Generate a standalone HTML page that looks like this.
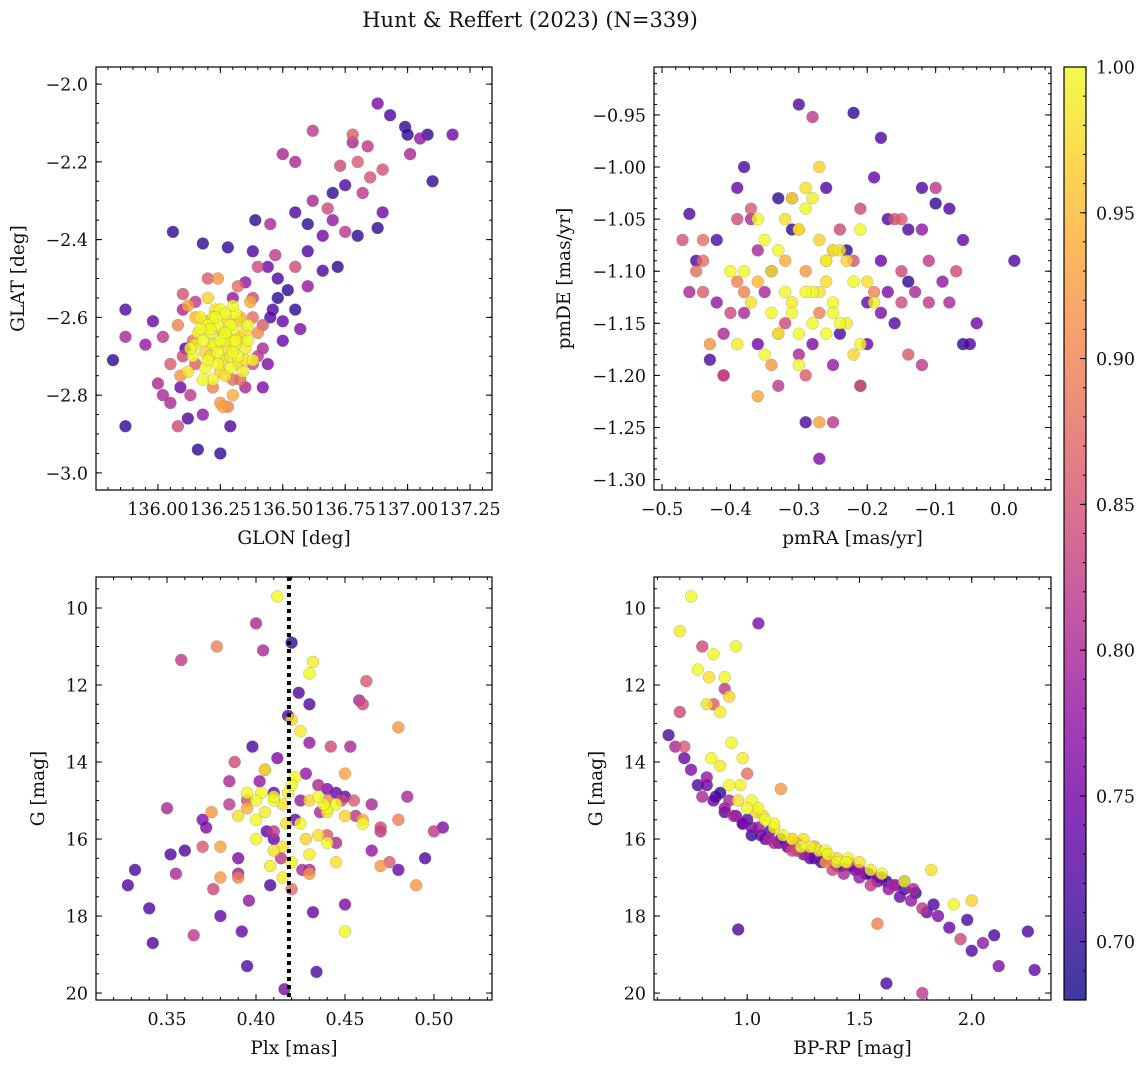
<!DOCTYPE html>
<html><head><meta charset="utf-8"><style>
html,body{margin:0;padding:0;background:#fff}
svg{display:block}
text{font-family:"DejaVu Serif","Liberation Serif",serif;fill:#111}
</style></head><body>
<svg id="fig" width="1148" height="1067" viewBox="0 0 1148 1067" xmlns="http://www.w3.org/2000/svg">
<defs><linearGradient id="plasma" x1="0" y1="1" x2="0" y2="0">
<stop offset="0" stop-color="#0d0887"/><stop offset="0.1" stop-color="#41049d"/><stop offset="0.2" stop-color="#6a00a8"/><stop offset="0.3" stop-color="#8f0da4"/><stop offset="0.4" stop-color="#b12a90"/><stop offset="0.5" stop-color="#cc4778"/><stop offset="0.6" stop-color="#e16462"/><stop offset="0.7" stop-color="#f2844b"/><stop offset="0.8" stop-color="#fca636"/><stop offset="0.9" stop-color="#fcce25"/><stop offset="1" stop-color="#f0f921"/>
</linearGradient></defs>
<text x="530" y="27" font-size="21" text-anchor="middle">Hunt &amp; Reffert (2023) (N=339)</text>
</svg>
<script>
// ---------- Panel 1: GLON / GLAT ----------
const glon=[135.82,135.87,135.87,135.87,135.95,136.02,136.06,136.02,136.09,136.11,
136.18,136.16,136.12,136.25,136.28,136.29,136.38,136.39,136.44,136.48,
136.55,136.60,136.62,136.66,136.70,136.73,136.75,136.78,136.80,136.84,
136.88,136.90,136.93,136.99,137.00,137.05,137.08,137.10,137.18,136.50,
136.55,136.62,136.85,136.88,136.78,136.66,136.72,136.47,136.35,136.40,
136.52,136.57,136.46,136.42,136.50,136.30,136.60,136.70,136.82,137.01,
136.10,136.15,136.32,136.20,136.05,136.28,136.30,136.38,136.42,136.10,
136.22,136.90,136.80,136.75,136.55,136.45,136.68,136.38,136.15,136.08,
136.12,136.24,136.30,136.26,136.09,136.40,136.37,136.15,136.20,136.33,
136.20,136.22,136.25,136.28,136.30,136.33,136.35,136.18,136.21,136.24,
136.27,136.29,136.31,136.26,136.23,136.19,136.16,136.14,136.12,136.36,
136.38,136.34,136.30,136.27,136.24,136.20,136.17,136.22,136.28,136.32,
136.25,136.21,136.29,136.35,136.13,136.26,136.31,136.19,136.23,136.27,
136.21,136.26,136.31,136.19,136.24,136.29,136.33,136.17,136.22,136.27,
136.32,136.36,136.15,136.20,136.25,136.30,136.35,136.18,136.23,136.28,
136.10,136.14,136.40,136.44,136.35,136.45,136.50,136.55,136.60,136.48,
136.05,136.00,135.98,136.08,136.13,136.18,136.25,136.33,136.42,136.38];
const glat=[-2.71,-2.58,-2.65,-2.88,-2.67,-2.65,-2.38,-2.80,-2.78,-2.68,
-2.41,-2.94,-2.86,-2.95,-2.42,-2.88,-2.43,-2.35,-2.47,-2.55,
-2.33,-2.36,-2.30,-2.39,-2.28,-2.21,-2.26,-2.15,-2.39,-2.16,
-2.37,-2.33,-2.08,-2.11,-2.13,-2.14,-2.13,-2.25,-2.13,-2.18,
-2.20,-2.12,-2.24,-2.05,-2.13,-2.48,-2.47,-2.44,-2.51,-2.47,
-2.53,-2.63,-2.58,-2.68,-2.61,-2.55,-2.43,-2.35,-2.28,-2.18,
-2.54,-2.56,-2.52,-2.50,-2.82,-2.83,-2.76,-2.72,-2.62,-2.58,
-2.78,-2.22,-2.20,-2.38,-2.47,-2.36,-2.32,-2.60,-2.72,-2.62,
-2.57,-2.50,-2.80,-2.83,-2.75,-2.64,-2.56,-2.60,-2.62,-2.60,
-2.62,-2.60,-2.58,-2.61,-2.63,-2.65,-2.68,-2.66,-2.70,-2.72,
-2.66,-2.70,-2.59,-2.64,-2.67,-2.69,-2.64,-2.70,-2.74,-2.62,
-2.71,-2.74,-2.57,-2.75,-2.62,-2.55,-2.60,-2.76,-2.68,-2.70,
-2.66,-2.64,-2.62,-2.64,-2.68,-2.71,-2.67,-2.73,-2.58,-2.64,
-2.63,-2.65,-2.66,-2.61,-2.69,-2.73,-2.61,-2.63,-2.67,-2.59,
-2.72,-2.66,-2.67,-2.71,-2.74,-2.69,-2.71,-2.76,-2.60,-2.65,
-2.70,-2.66,-2.70,-2.72,-2.78,-2.60,-2.66,-2.58,-2.52,-2.50,
-2.72,-2.77,-2.61,-2.88,-2.80,-2.85,-2.82,-2.76,-2.78,-2.55];
const prob1=[.70,.72,.80,.70,.78,.82,.70,.80,.75,.72,
.70,.70,.72,.70,.70,.72,.72,.70,.75,.70,
.72,.70,.80,.75,.70,.84,.72,.80,.70,.82,
.70,.75,.72,.70,.70,.78,.70,.70,.75,.80,
.80,.82,.85,.76,.86,.72,.70,.82,.78,.84,
.70,.76,.72,.80,.74,.78,.72,.78,.82,.80,
.85,.82,.88,.86,.80,.90,.88,.84,.86,.80,
.90,.85,.86,.82,.84,.80,.84,.88,.86,.90,
.93,.92,.94,.93,.92,.91,.94,.95,.96,.95,
1,.99,1,.98,1,.97,.99,1,.98,1,
1,.99,1,.98,1,.97,.99,1,.98,1,
1,.99,1,.98,1,.97,.99,1,.98,1,
1,.99,1,.98,1,.97,.99,1,.98,1,
1,.99,1,.98,1,1,.97,1,.99,1,
.98,1,.99,1,.97,1,.98,1,1,.99,
.84,.88,.82,.76,.80,.72,.74,.70,.78,.72,
.86,.80,.74,.84,.82,.78,.92,.88,.76,.84];
// ---------- Panel 2: pmRA / pmDE ----------
const pmra=[-0.46,-0.47,-0.45,-0.43,-0.42,-0.39,-0.38,-0.36,-0.33,-0.30,
-0.29,-0.27,-0.25,-0.22,-0.21,-0.18,-0.16,-0.14,-0.12,-0.10,
-0.08,-0.06,-0.05,-0.04,0.015,-0.07,-0.09,-0.11,-0.13,-0.15,
-0.17,-0.19,-0.23,-0.26,-0.31,-0.34,-0.37,-0.40,-0.41,-0.44,
-0.35,-0.32,-0.24,-0.20,-0.15,-0.12,-0.10,-0.18,-0.28,-0.30,
-0.43,-0.38,-0.36,-0.33,-0.27,-0.22,-0.19,-0.14,-0.25,-0.29,
-0.46,-0.44,-0.41,-0.37,-0.31,-0.28,-0.24,-0.21,-0.16,-0.39,
-0.36,-0.34,-0.32,-0.30,-0.28,-0.27,-0.26,-0.25,-0.24,-0.22,
-0.35,-0.33,-0.31,-0.29,-0.28,-0.26,-0.23,-0.21,-0.20,-0.38,
-0.40,-0.39,-0.34,-0.31,-0.29,-0.27,-0.25,-0.30,-0.32,-0.26,
-0.33,-0.31,-0.29,-0.27,-0.25,-0.23,-0.21,-0.19,-0.35,-0.37,
-0.30,-0.28,-0.26,-0.24,-0.22,-0.32,-0.34,-0.36,-0.30,-0.27,
-0.45,-0.42,-0.39,-0.36,-0.20,-0.17,-0.14,-0.11,-0.08,-0.06,
-0.33,-0.29,-0.25,-0.21,-0.18,-0.38,-0.41,-0.44,-0.15,-0.12];
const pmde=[-1.045,-1.07,-1.10,-1.185,-1.07,-1.02,-1.14,-1.17,-1.03,-0.94,
-1.245,-1.28,-1.245,-0.948,-1.21,-0.972,-1.15,-1.11,-1.02,-1.035,
-1.04,-1.17,-1.17,-1.15,-1.09,-1.10,-1.11,-1.13,-1.12,-1.10,
-1.05,-1.01,-1.08,-1.02,-1.06,-1.10,-1.05,-1.14,-1.20,-1.09,
-1.12,-1.15,-1.16,-1.13,-1.05,-1.06,-1.02,-1.09,-1.17,-1.18,
-1.17,-1.12,-1.22,-1.16,-1.245,-1.09,-1.12,-1.18,-1.08,-1.10,
-1.12,-1.07,-1.20,-1.04,-1.03,-0.952,-1.06,-1.21,-1.05,-1.11,
-1.05,-1.10,-1.12,-1.06,-1.15,-1.00,-1.09,-1.13,-1.08,-1.11,
-1.18,-1.16,-1.14,-1.02,-1.12,-1.09,-1.15,-1.17,-1.11,-1.10,
-1.10,-1.17,-1.14,-1.03,-1.12,-1.07,-1.08,-1.19,-1.05,-1.16,
-1.08,-1.13,-1.04,-1.12,-1.14,-1.09,-1.06,-1.13,-1.07,-1.13,
-1.16,-1.03,-1.11,-1.15,-1.18,-1.09,-1.19,-1.11,-1.06,-1.14,
-1.09,-1.13,-1.05,-1.08,-1.17,-1.12,-1.06,-1.09,-1.13,-1.07,
-1.21,-1.20,-1.19,-1.04,-1.14,-1.00,-1.16,-1.12,-1.13,-1.19];
const prob2=[.72,.85,.88,.72,.72,.74,.80,.75,.70,.72,
.72,.76,.82,.70,.72,.72,.72,.70,.72,.70,
.72,.70,.72,.75,.72,.84,.78,.82,.80,.84,
.72,.74,.70,.72,.70,.75,.80,.84,.82,.88,
.80,.84,.72,.74,.86,.78,.82,.74,.76,.80,
.92,.90,.93,.88,.93,.85,.90,.86,.88,.92,
.80,.88,.83,.86,.82,.82,.84,.86,.85,.90,
1,.99,1,.98,1,.97,.99,1,.98,1,
1,.99,1,.98,1,.97,.99,1,.98,1,
1,.99,1,.98,1,.97,.99,1,.98,1,
1,.99,1,.98,1,.97,1,.99,1,.98,
1,.99,.98,1,.97,.94,.92,.95,.93,.90,
.72,.78,.84,.80,.74,.76,.72,.82,.80,.74,
.82,.86,.78,.84,.76,.72,.80,.86,.84,.82];
// ---------- Panel 3: Plx / G ----------
const plx=[0.328,0.332,0.34,0.342,0.35,0.352,0.355,0.358,0.365,0.37,
0.372,0.376,0.378,0.38,0.385,0.39,0.392,0.395,0.398,0.40,
0.402,0.404,0.406,0.408,0.41,0.412,0.414,0.416,0.418,0.42,
0.422,0.424,0.426,0.428,0.43,0.432,0.434,0.436,0.44,0.442,
0.445,0.448,0.45,0.453,0.456,0.46,0.465,0.47,0.475,0.48,
0.485,0.49,0.495,0.50,0.505,0.458,0.462,0.388,0.396,0.41,
0.40,0.405,0.41,0.415,0.418,0.42,0.425,0.43,0.435,0.44,
0.403,0.408,0.412,0.417,0.422,0.428,0.432,0.438,0.445,0.45,
0.375,0.38,0.39,0.395,0.43,0.44,0.45,0.46,0.47,0.48,
0.40,0.405,0.41,0.415,0.42,0.425,0.43,0.435,0.44,0.445,
0.41,0.42,0.43,0.44,0.45,0.46,0.39,0.395,0.40,0.415,
0.36,0.37,0.385,0.395,0.405,0.425,0.435,0.445,0.455,0.465,
0.47,0.48,0.39,0.41,0.43,0.44,0.45,0.38,0.42,0.43];
const gmag3=[17.2,16.8,17.8,18.7,15.2,16.4,16.9,11.35,18.5,16.2,
15.7,17.3,11.0,18.0,15.1,16.9,18.4,19.3,13.6,10.4,
14.5,11.1,15.8,17.2,14.8,13.9,16.5,19.9,12.8,10.9,
15.5,12.2,16.8,14.3,12.5,17.9,19.45,15.3,14.7,13.6,
16.1,15.0,17.7,13.6,15.4,12.5,16.3,15.8,16.6,16.8,
14.9,17.2,16.5,15.8,15.7,12.4,11.9,14.0,17.6,16.0,
15.5,14.2,15.0,16.2,14.8,12.9,13.2,11.7,15.9,15.2,
14.8,16.7,9.7,15.6,14.4,16.0,11.4,15.1,16.6,18.4,
15.3,16.2,17.0,15.2,16.9,15.0,14.3,15.5,16.7,13.1,
15.0,15.3,14.9,15.1,14.6,15.6,15.0,14.9,15.3,15.1,
16.3,16.6,16.4,16.1,15.4,15.6,15.4,14.8,16.0,17.0,
16.3,15.5,14.5,15.0,14.2,15.0,14.6,14.8,15.0,15.1,
15.7,15.5,16.5,15.8,16.8,15.9,14.9,17.0,17.3,13.5];
const prob3=[.72,.72,.72,.72,.80,.72,.80,.82,.82,.86,
.76,.84,.90,.74,.82,.78,.74,.72,.72,.80,
.78,.80,.74,.72,.74,.76,.82,.76,.72,.70,
.74,.72,.80,.78,.72,.74,.72,.80,.76,.84,
.80,.84,.76,.80,.82,.84,.78,.82,.86,.74,
.80,.92,.72,.82,.76,.80,.86,.84,.78,.74,
1,.99,1,.98,1,.97,.99,1,.98,1,
1,.99,1,.98,1,.97,.99,1,.98,1,
.92,.93,.90,.94,.92,.91,.93,.94,.92,.92,
1,.99,1,.98,1,1,.97,1,.99,1,
.98,1,.99,1,.97,1,.98,1,1,.99,
.72,.76,.80,.84,.82,.78,.80,.74,.86,.80,
.84,.90,.76,.82,.80,.86,.74,.92,.88,.78];
const plxRef=[0.4185];
// ---------- Panel 4: BP-RP / G ----------
const bprp=[0.65,0.68,0.70,0.72,0.75,0.78,0.80,0.82,0.85,0.88,
0.90,0.92,0.95,0.98,1.00,1.02,1.05,1.08,1.10,1.12,
1.15,1.18,1.20,1.22,1.25,1.28,1.30,1.33,1.35,1.38,
1.40,1.43,1.45,1.48,1.50,1.53,1.55,1.58,1.60,1.63,
1.65,1.68,1.70,1.73,1.75,1.78,1.80,1.83,1.85,1.90,
1.95,1.98,2.00,2.05,2.10,2.12,2.25,2.28,0.96,1.62,
1.78,1.05,0.72,0.80,0.85,0.90,1.00,1.15,1.35,1.58,
0.75,0.70,0.78,0.83,0.90,0.92,0.88,0.95,0.82,0.85,
0.93,0.97,1.02,1.07,1.12,1.2,1.3,1.4,1.5,1.6,
1.45,1.55,1.7,1.82,1.92,2.0,0.98,1.05,1.25,1.35,
0.82,0.86,0.90,0.94,0.98,1.02,1.06,1.10,1.14,1.18,
1.22,1.26,1.30,1.34,1.38,1.42,1.46,1.50,1.54,1.58,
1.62,1.66,1.70,1.74,0.84,0.88,0.92,0.96,1.00,1.04,
1.08,1.12,1.16,1.20,1.24,1.28,1.32,1.36,1.40,1.44];
const gmag4=[13.3,13.6,12.7,13.9,14.2,14.6,14.9,14.4,15.0,14.8,
15.3,15.0,15.4,15.6,15.5,15.9,15.7,16.0,15.8,16.1,
16.0,16.2,16.3,16.1,16.4,16.5,16.2,16.6,16.4,16.8,
16.7,16.9,16.6,16.8,17.0,16.9,17.2,17.1,17.0,17.3,
17.2,17.5,17.3,17.6,17.4,17.8,17.9,17.7,18.0,18.3,
18.6,18.1,18.9,18.7,18.5,19.3,18.4,19.4,18.35,19.75,
20.0,10.4,13.6,11.0,12.5,12.1,14.3,14.7,16.6,18.2,
9.7,10.6,11.6,11.8,11.8,12.3,12.7,11.0,12.5,11.2,
13.5,14.6,15.0,15.4,15.6,16.0,16.2,16.6,16.6,16.9,
16.5,16.8,17.1,16.8,17.7,17.6,13.9,15.2,16.0,16.3,
14.6,14.9,15.2,15.4,15.6,15.7,15.9,16.0,16.1,16.2,
16.3,16.4,16.5,16.5,16.6,16.7,16.7,16.8,16.9,17.0,
17.1,17.2,17.1,17.3,13.9,14.1,14.6,15.0,15.2,15.3,
15.5,15.7,15.9,16.0,16.2,16.2,16.3,16.4,16.5,16.6];
const prob4=[.72,.80,.84,.74,.76,.72,.80,.78,.74,.70,
.72,.80,.74,.76,.72,.70,.78,.74,.72,.80,
.72,.76,.84,.72,.80,.74,.78,.72,.76,.84,
.72,.80,.86,.74,.78,.70,.82,.76,.72,.78,
.80,.74,.72,.78,.70,.82,.74,.72,.76,.74,
.84,.72,.72,.78,.72,.76,.72,.74,.72,.72,
.82,.76,.86,.84,.86,.82,.88,.92,.92,.90,
1,.99,1,.98,1,.97,.99,1,.98,1,
1,.99,1,.98,1,.97,.99,1,.98,1,
1,.99,1,.98,1,.97,.99,1,.98,1,
.74,.72,.78,.80,.72,.76,.74,.80,.72,.78,
.82,.74,.72,.76,.80,.72,.74,.78,.72,.76,
.70,.74,.72,.80,1,.99,1,.98,1,.97,
1,.99,1,.98,1,.99,.98,1,.97,1];
// ---------- Colorbar ----------
const cbTicks=[0.70,0.75,0.80,0.85,0.90,0.95,1.00];
const cbMin=0.68, cbMax=1.0;

const NS="http://www.w3.org/2000/svg";
const svg=document.getElementById('fig');
function el(tag,attrs,parent){const e=document.createElementNS(NS,tag);for(const k in attrs)e.setAttribute(k,attrs[k]);(parent||svg).appendChild(e);return e;}
const stops=[[0,[13,8,135]],[.1,[65,4,157]],[.2,[106,0,168]],[.3,[143,13,164]],[.4,[177,42,144]],[.5,[204,71,120]],[.6,[225,100,98]],[.7,[242,132,75]],[.8,[252,166,54]],[.9,[252,206,37]],[1,[240,249,33]]];
function plasma(p){let t=(p-cbMin)/(cbMax-cbMin);t=Math.max(0,Math.min(1,t));
 for(let i=1;i<stops.length;i++){if(t<=stops[i][0]){const a=stops[i-1],b=stops[i],f=(t-a[0])/(b[0]-a[0]);
 return 'rgb('+a[1].map((v,j)=>Math.round(v+(b[1][j]-v)*f)).join(',')+')';}}return 'rgb(240,249,33)';}
function fmt(v,d){const s=Math.abs(v).toFixed(d);return (v<-1e-9?'\u2212':'')+s;}
const TF=17.5, LF=18.5;
function panel(cfg){
 const g=el('g',{});
 
 
 const L=cfg.box[0],T=cfg.box[1],R=cfg.box[2],B=cfg.box[3];
 const sx=v=>L+(v-cfg.xd[0])/(cfg.xd[1]-cfg.xd[0])*(R-L);
 const sy=v=>cfg.yinv? T+(v-cfg.yd[0])/(cfg.yd[1]-cfg.yd[0])*(B-T) : B-(v-cfg.yd[0])/(cfg.yd[1]-cfg.yd[0])*(B-T);
 const clip='clip-'+cfg.name;
 const cp=el('clipPath',{id:clip},g);el('rect',{x:L,y:T,width:R-L,height:B-T},cp);
 const pts=el('g',{'clip-path':'url(#'+clip+')'},g);
 
 
 const idx=cfg.xs.map((_,i)=>i).sort((a,b)=>cfg.ps[a]-cfg.ps[b]);
 for(const i of idx){
  const c=el('circle',{cx:sx(cfg.xs[i]),cy:sy(cfg.ys[i]),r:6,fill:plasma(cfg.ps[i]),'fill-opacity':0.8,stroke:'#777','stroke-opacity':0.5,'stroke-width':0.5},pts);
  
  
 }
 if(cfg.vline){for(const v of cfg.vline){const ln=el('line',{x1:sx(v),x2:sx(v),y1:T,y2:B,stroke:'#000','stroke-width':4,'stroke-dasharray':'4 4'},g);
  
  }}
 const tk=el('g',{stroke:'#000','stroke-width':1},g);
 const eps=1e-9;
 for(let v=Math.ceil(cfg.xd[0]/cfg.xmin-eps)*cfg.xmin;v<=cfg.xd[1]+eps;v+=cfg.xmin){const x=sx(v);
  el('line',{x1:x,x2:x,y1:B,y2:B-3},tk);el('line',{x1:x,x2:x,y1:T,y2:T+3},tk);}
 const ylo=Math.min(cfg.yd[0],cfg.yd[1]),yhi=Math.max(cfg.yd[0],cfg.yd[1]);
 for(let v=Math.ceil(ylo/cfg.ymin-eps)*cfg.ymin;v<=yhi+eps;v+=cfg.ymin){const y=sy(v);
  el('line',{x1:L,x2:L+3,y1:y,y2:y},tk);el('line',{x1:R,x2:R-3,y1:y,y2:y},tk);}
 for(const v of cfg.xt){const x=sx(v);
  el('line',{x1:x,x2:x,y1:B,y2:B-6},tk);el('line',{x1:x,x2:x,y1:T,y2:T+6},tk);
  const t=el('text',{x:x,y:B+25,'font-size':TF,'text-anchor':'middle'},g);t.textContent=fmt(v,cfg.xdec);
  
  }
 for(const v of cfg.yt){const y=sy(v);
  el('line',{x1:L,x2:L+6,y1:y,y2:y},tk);el('line',{x1:R,x2:R-6,y1:y,y2:y},tk);
  const t=el('text',{x:L-8,y:y+6.5,'font-size':TF,'text-anchor':'end'},g);t.textContent=fmt(v,cfg.ydec);
  
  }
 const fr=el('rect',{x:L,y:T,width:R-L,height:B-T,fill:'none',stroke:'#000','stroke-width':1.2},g);
 
 
 const xl=el('text',{x:(L+R)/2,y:B+54,'font-size':LF,'text-anchor':'middle'},g);xl.textContent=cfg.xlab;
 
 
 const yx=cfg.ylx, yy=(T+B)/2;
 const yl=el('text',{x:yx,y:yy,'font-size':LF,'text-anchor':'middle',transform:'rotate(-90 '+yx+' '+yy+')'},g);yl.textContent=cfg.ylab;
 
 
}
panel({name:'glon-glat-panel',box:[96,67,492,490],xd:[135.752,137.338],yd:[-3.044,-1.956],xs:glon,ys:glat,ps:prob1,
 xt:[136.0,136.25,136.5,136.75,137.0,137.25],xdec:2,yt:[-3.0,-2.8,-2.6,-2.4,-2.2,-2.0],ydec:1,xmin:0.05,ymin:0.05,xlab:'GLON [deg]',ylab:'GLAT [deg]',ylx:24});
panel({name:'pm-panel',box:[654,67,1051,490],xd:[-0.5117,0.0686],yd:[-1.310,-0.904],xs:pmra,ys:pmde,ps:prob2,
 xt:[-0.5,-0.4,-0.3,-0.2,-0.1,0.0],xdec:1,yt:[-1.30,-1.25,-1.20,-1.15,-1.10,-1.05,-1.00,-0.95],ydec:2,xmin:0.02,ymin:0.01,xlab:'pmRA [mas/yr]',ylab:'pmDE [mas/yr]',ylx:570});
panel({name:'plx-g-panel',box:[96,577,492,1000],xd:[0.3101,0.5326],yd:[9.195,20.18],yinv:true,xs:plx,ys:gmag3,ps:prob3,vline:plxRef,
 xt:[0.35,0.40,0.45,0.50],xdec:2,yt:[10,12,14,16,18,20],ydec:0,xmin:0.01,ymin:0.5,xlab:'Plx [mas]',ylab:'G [mag]',ylx:44});
panel({name:'cmd-panel',box:[654,577,1051,1000],xd:[0.585,2.353],yd:[9.195,20.18],yinv:true,xs:bprp,ys:gmag4,ps:prob4,
 xt:[1.0,1.5,2.0],xdec:1,yt:[10,12,14,16,18,20],ydec:0,xmin:0.1,ymin:0.5,xlab:'BP-RP [mag]',ylab:'G [mag]',ylx:602});
(function(){
 const g=el('g',{});
 
 
 const L=1064,R=1086,T=67,B=1000;
 const sy=v=>B-(v-cbMin)/(cbMax-cbMin)*(B-T);
 el('rect',{x:L,y:T,width:R-L,height:B-T,fill:'url(#plasma)','fill-opacity':0.8},g);
 for(let v=0.68;v<=1.0001;v+=0.01){const y=sy(v);el('line',{x1:R,x2:R-3,y1:y,y2:y,stroke:'#000'},g);}
 for(const v of cbTicks){const y=sy(v);el('line',{x1:R,x2:R-6,y1:y,y2:y,stroke:'#000'},g);
  const t=el('text',{x:R+10,y:y+6.5,'font-size':TF},g);t.textContent=v.toFixed(2);
  
  }
 el('rect',{x:L,y:T,width:R-L,height:B-T,fill:'none',stroke:'#000','stroke-width':1.2},g);
})();
</script>
</body></html>
